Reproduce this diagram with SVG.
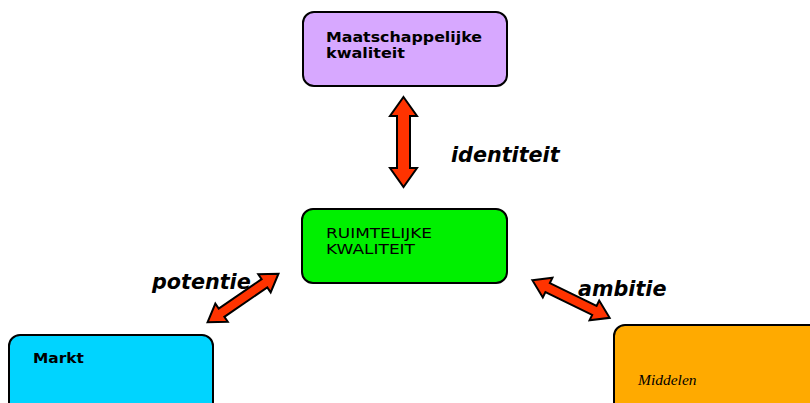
<svg xmlns="http://www.w3.org/2000/svg" width="810" height="403" viewBox="0 0 810 403">
<style>
.box{stroke:#000;stroke-width:2}
.lbl{font-family:"DejaVu Sans",Verdana,sans-serif;font-size:14px;fill:#000}
.b{font-weight:bold}
.edge{font-family:"DejaVu Sans",Verdana,sans-serif;font-size:20.7px;font-weight:bold;font-style:italic;fill:#000}
.arr{fill:#FF3300;stroke:#000;stroke-width:2;stroke-linejoin:miter}
</style>
<defs>
<path id="dv" d="M-45,0 L-26,-13.5 L-26,-6.5 L26,-6.5 L26,-13.5 L45,0 L26,13.5 L26,6.5 L-26,6.5 L-26,13.5 Z"/>
<path id="dd" d="M-43,0 L-26,-11 L-26,-5 L26,-5 L26,-11 L43,0 L26,11 L26,5 L-26,5 L-26,11 Z"/>
</defs>
<rect width="810" height="403" fill="#fff"/>
<g id="maatschappelijk">
<rect class="box" x="303" y="12" width="204" height="74" rx="11" fill="#D7A8FF"/>
<text class="lbl b" x="326" y="42" textLength="156" lengthAdjust="spacingAndGlyphs">Maatschappelijke</text>
<text class="lbl b" x="326" y="58" textLength="79" lengthAdjust="spacingAndGlyphs">kwaliteit</text>
</g>
<g id="ruimtelijk">
<rect class="box" x="302" y="209" width="205" height="74" rx="11" fill="#00F000"/>
<text class="lbl" x="326" y="238" textLength="106" lengthAdjust="spacingAndGlyphs">RUIMTELIJKE</text>
<text class="lbl" x="326" y="254" textLength="89" lengthAdjust="spacingAndGlyphs">KWALITEIT</text>
</g>
<g id="markt">
<rect class="box" x="9" y="335" width="204" height="80" rx="11" fill="#00D4FF"/>
<text class="lbl b" x="33" y="363" textLength="51" lengthAdjust="spacingAndGlyphs">Markt</text>
</g>
<g id="middelen">
<rect class="box" x="614" y="325" width="210" height="90" rx="11" fill="#FFAA00"/>
<text x="638" y="385" font-family="'Liberation Serif','Times New Roman',serif" font-size="15.5" font-style="italic" fill="#000">Middelen</text>
</g>
<g id="connectors">
<use href="#dv" class="arr" transform="translate(403.5,142) rotate(90)"/>
<use href="#dd" class="arr" transform="translate(243,298) rotate(-34.4)"/>
<use href="#dd" class="arr" transform="translate(571,299) rotate(26)"/>
<text class="edge" x="451" y="162">identiteit</text>
<text class="edge" x="152" y="289">potentie</text>
<text class="edge" x="578" y="296">ambitie</text>
</g>
</svg>
